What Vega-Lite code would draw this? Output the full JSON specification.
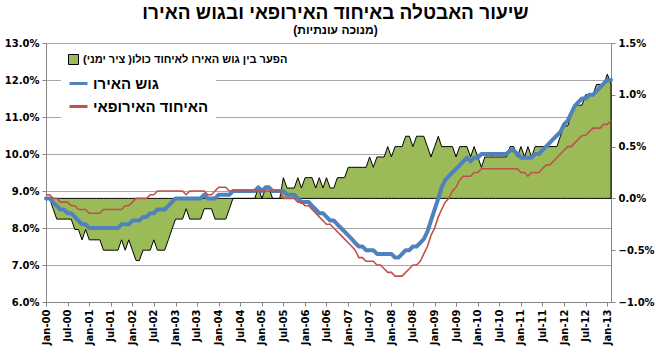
{
"$schema": "https://vega.github.io/schema/vega-lite/v6.json",
"width": 565,
"height": 259,
"background": "white",
"padding": {"left": 4, "right": 4, "top": 4, "bottom": 4},
"config": {"view": {"stroke": null}},
"title": {"text": "שיעור האבטלה באיחוד האירופאי ובגוש האירו", "subtitle": "(מנוכה עונתיות)", "font": "Liberation Sans", "fontSize": 19, "fontWeight": "bold", "color": "black", "subtitleFont": "Liberation Sans", "subtitleFontSize": 12, "subtitleFontWeight": "bold", "subtitleColor": "black", "anchor": "middle", "dx": 7, "offset": 2, "subtitlePadding": 2},
"data": {"values": [
{"date":"2000-01-01","ea":8.8,"eu":8.9,"gap":0},
{"date":"2000-02-01","ea":8.8,"eu":8.9,"gap":0},
{"date":"2000-03-01","ea":8.7,"eu":8.8,"gap":-0.1},
{"date":"2000-04-01","ea":8.6,"eu":8.8,"gap":-0.2},
{"date":"2000-05-01","ea":8.5,"eu":8.7,"gap":-0.2},
{"date":"2000-06-01","ea":8.5,"eu":8.7,"gap":-0.2},
{"date":"2000-07-01","ea":8.4,"eu":8.7,"gap":-0.2},
{"date":"2000-08-01","ea":8.4,"eu":8.6,"gap":-0.2},
{"date":"2000-09-01","ea":8.3,"eu":8.6,"gap":-0.3},
{"date":"2000-10-01","ea":8.2,"eu":8.5,"gap":-0.3},
{"date":"2000-11-01","ea":8.1,"eu":8.5,"gap":-0.4},
{"date":"2000-12-01","ea":8.1,"eu":8.5,"gap":-0.3},
{"date":"2001-01-01","ea":8.0,"eu":8.4,"gap":-0.4},
{"date":"2001-02-01","ea":8.0,"eu":8.4,"gap":-0.4},
{"date":"2001-03-01","ea":8.0,"eu":8.4,"gap":-0.4},
{"date":"2001-04-01","ea":8.0,"eu":8.4,"gap":-0.4},
{"date":"2001-05-01","ea":8.0,"eu":8.5,"gap":-0.5},
{"date":"2001-06-01","ea":8.0,"eu":8.5,"gap":-0.5},
{"date":"2001-07-01","ea":8.0,"eu":8.5,"gap":-0.5},
{"date":"2001-08-01","ea":8.0,"eu":8.5,"gap":-0.5},
{"date":"2001-09-01","ea":8.0,"eu":8.5,"gap":-0.5},
{"date":"2001-10-01","ea":8.1,"eu":8.5,"gap":-0.4},
{"date":"2001-11-01","ea":8.1,"eu":8.6,"gap":-0.5},
{"date":"2001-12-01","ea":8.1,"eu":8.6,"gap":-0.4},
{"date":"2002-01-01","ea":8.2,"eu":8.7,"gap":-0.5},
{"date":"2002-02-01","ea":8.2,"eu":8.8,"gap":-0.6},
{"date":"2002-03-01","ea":8.2,"eu":8.8,"gap":-0.6},
{"date":"2002-04-01","ea":8.3,"eu":8.8,"gap":-0.5},
{"date":"2002-05-01","ea":8.3,"eu":8.8,"gap":-0.5},
{"date":"2002-06-01","ea":8.4,"eu":8.9,"gap":-0.5},
{"date":"2002-07-01","ea":8.4,"eu":8.9,"gap":-0.4},
{"date":"2002-08-01","ea":8.5,"eu":9.0,"gap":-0.5},
{"date":"2002-09-01","ea":8.5,"eu":9.0,"gap":-0.5},
{"date":"2002-10-01","ea":8.5,"eu":9.0,"gap":-0.5},
{"date":"2002-11-01","ea":8.6,"eu":9.0,"gap":-0.4},
{"date":"2002-12-01","ea":8.7,"eu":9.0,"gap":-0.3},
{"date":"2003-01-01","ea":8.8,"eu":9.0,"gap":-0.2},
{"date":"2003-02-01","ea":8.8,"eu":9.0,"gap":-0.2},
{"date":"2003-03-01","ea":8.8,"eu":9.0,"gap":-0.2},
{"date":"2003-04-01","ea":8.8,"eu":8.9,"gap":-0.1},
{"date":"2003-05-01","ea":8.8,"eu":9.0,"gap":-0.2},
{"date":"2003-06-01","ea":8.8,"eu":9.0,"gap":-0.2},
{"date":"2003-07-01","ea":8.8,"eu":9.0,"gap":-0.2},
{"date":"2003-08-01","ea":8.8,"eu":9.0,"gap":-0.2},
{"date":"2003-09-01","ea":8.9,"eu":9.0,"gap":-0.1},
{"date":"2003-10-01","ea":8.8,"eu":8.9,"gap":-0.1},
{"date":"2003-11-01","ea":8.8,"eu":8.9,"gap":-0.1},
{"date":"2003-12-01","ea":8.8,"eu":9.0,"gap":-0.2},
{"date":"2004-01-01","ea":8.9,"eu":9.1,"gap":-0.2},
{"date":"2004-02-01","ea":8.9,"eu":9.1,"gap":-0.2},
{"date":"2004-03-01","ea":8.9,"eu":9.1,"gap":-0.2},
{"date":"2004-04-01","ea":8.9,"eu":9.0,"gap":-0.1},
{"date":"2004-05-01","ea":9.0,"eu":9.0,"gap":0},
{"date":"2004-06-01","ea":9.0,"eu":9.0,"gap":0},
{"date":"2004-07-01","ea":9.0,"eu":9.0,"gap":0},
{"date":"2004-08-01","ea":9.0,"eu":9.0,"gap":0},
{"date":"2004-09-01","ea":9.0,"eu":9.0,"gap":0},
{"date":"2004-10-01","ea":9.0,"eu":9.0,"gap":0},
{"date":"2004-11-01","ea":9.0,"eu":9.0,"gap":0},
{"date":"2004-12-01","ea":9.1,"eu":9.0,"gap":0.1},
{"date":"2005-01-01","ea":9.0,"eu":9.0,"gap":0},
{"date":"2005-02-01","ea":9.1,"eu":9.0,"gap":0.1},
{"date":"2005-03-01","ea":9.1,"eu":9.0,"gap":0.1},
{"date":"2005-04-01","ea":9.0,"eu":9.0,"gap":0},
{"date":"2005-05-01","ea":9.0,"eu":9.0,"gap":0},
{"date":"2005-06-01","ea":9.0,"eu":9.0,"gap":0},
{"date":"2005-07-01","ea":9.0,"eu":8.8,"gap":0.2},
{"date":"2005-08-01","ea":8.9,"eu":8.8,"gap":0.1},
{"date":"2005-09-01","ea":8.9,"eu":8.8,"gap":0.1},
{"date":"2005-10-01","ea":8.9,"eu":8.8,"gap":0.1},
{"date":"2005-11-01","ea":8.8,"eu":8.7,"gap":0.2},
{"date":"2005-12-01","ea":8.7,"eu":8.7,"gap":0.1},
{"date":"2006-01-01","ea":8.7,"eu":8.6,"gap":0.2},
{"date":"2006-02-01","ea":8.7,"eu":8.6,"gap":0.2},
{"date":"2006-03-01","ea":8.6,"eu":8.5,"gap":0.2},
{"date":"2006-04-01","ea":8.5,"eu":8.4,"gap":0.1},
{"date":"2006-05-01","ea":8.4,"eu":8.3,"gap":0.2},
{"date":"2006-06-01","ea":8.4,"eu":8.2,"gap":0.1},
{"date":"2006-07-01","ea":8.3,"eu":8.1,"gap":0.2},
{"date":"2006-08-01","ea":8.2,"eu":8.1,"gap":0.1},
{"date":"2006-09-01","ea":8.2,"eu":8.0,"gap":0.1},
{"date":"2006-10-01","ea":8.1,"eu":7.9,"gap":0.2},
{"date":"2006-11-01","ea":8.0,"eu":7.8,"gap":0.2},
{"date":"2006-12-01","ea":7.9,"eu":7.7,"gap":0.2},
{"date":"2007-01-01","ea":7.8,"eu":7.6,"gap":0.3},
{"date":"2007-02-01","ea":7.7,"eu":7.5,"gap":0.3},
{"date":"2007-03-01","ea":7.6,"eu":7.4,"gap":0.3},
{"date":"2007-04-01","ea":7.5,"eu":7.2,"gap":0.3},
{"date":"2007-05-01","ea":7.5,"eu":7.2,"gap":0.3},
{"date":"2007-06-01","ea":7.4,"eu":7.1,"gap":0.3},
{"date":"2007-07-01","ea":7.4,"eu":7.1,"gap":0.4},
{"date":"2007-08-01","ea":7.4,"eu":7.1,"gap":0.3},
{"date":"2007-09-01","ea":7.3,"eu":7.0,"gap":0.4},
{"date":"2007-10-01","ea":7.3,"eu":7.0,"gap":0.4},
{"date":"2007-11-01","ea":7.3,"eu":6.9,"gap":0.4},
{"date":"2007-12-01","ea":7.3,"eu":6.8,"gap":0.5},
{"date":"2008-01-01","ea":7.3,"eu":6.8,"gap":0.4},
{"date":"2008-02-01","ea":7.2,"eu":6.7,"gap":0.5},
{"date":"2008-03-01","ea":7.2,"eu":6.7,"gap":0.5},
{"date":"2008-04-01","ea":7.3,"eu":6.7,"gap":0.5},
{"date":"2008-05-01","ea":7.4,"eu":6.8,"gap":0.6},
{"date":"2008-06-01","ea":7.4,"eu":6.9,"gap":0.6},
{"date":"2008-07-01","ea":7.5,"eu":7.0,"gap":0.5},
{"date":"2008-08-01","ea":7.5,"eu":7.0,"gap":0.6},
{"date":"2008-09-01","ea":7.6,"eu":7.1,"gap":0.6},
{"date":"2008-10-01","ea":7.7,"eu":7.3,"gap":0.6},
{"date":"2008-11-01","ea":7.9,"eu":7.5,"gap":0.5},
{"date":"2008-12-01","ea":8.2,"eu":7.8,"gap":0.4},
{"date":"2009-01-01","ea":8.5,"eu":8.0,"gap":0.5},
{"date":"2009-02-01","ea":8.8,"eu":8.3,"gap":0.6},
{"date":"2009-03-01","ea":9.1,"eu":8.5,"gap":0.5},
{"date":"2009-04-01","ea":9.3,"eu":8.7,"gap":0.5},
{"date":"2009-05-01","ea":9.4,"eu":8.8,"gap":0.5},
{"date":"2009-06-01","ea":9.5,"eu":9.0,"gap":0.5},
{"date":"2009-07-01","ea":9.6,"eu":9.1,"gap":0.4},
{"date":"2009-08-01","ea":9.7,"eu":9.3,"gap":0.5},
{"date":"2009-09-01","ea":9.8,"eu":9.4,"gap":0.5},
{"date":"2009-10-01","ea":9.9,"eu":9.4,"gap":0.5},
{"date":"2009-11-01","ea":9.8,"eu":9.4,"gap":0.4},
{"date":"2009-12-01","ea":9.9,"eu":9.5,"gap":0.5},
{"date":"2010-01-01","ea":9.9,"eu":9.5,"gap":0.4},
{"date":"2010-02-01","ea":10.0,"eu":9.6,"gap":0.3},
{"date":"2010-03-01","ea":10.0,"eu":9.6,"gap":0.4},
{"date":"2010-04-01","ea":10.0,"eu":9.6,"gap":0.4},
{"date":"2010-05-01","ea":10.0,"eu":9.6,"gap":0.4},
{"date":"2010-06-01","ea":10.0,"eu":9.6,"gap":0.4},
{"date":"2010-07-01","ea":10.0,"eu":9.6,"gap":0.4},
{"date":"2010-08-01","ea":10.0,"eu":9.6,"gap":0.4},
{"date":"2010-09-01","ea":10.0,"eu":9.6,"gap":0.4},
{"date":"2010-10-01","ea":10.1,"eu":9.6,"gap":0.5},
{"date":"2010-11-01","ea":10.1,"eu":9.6,"gap":0.5},
{"date":"2010-12-01","ea":10.0,"eu":9.6,"gap":0.4},
{"date":"2011-01-01","ea":9.9,"eu":9.5,"gap":0.5},
{"date":"2011-02-01","ea":9.9,"eu":9.5,"gap":0.4},
{"date":"2011-03-01","ea":9.9,"eu":9.4,"gap":0.5},
{"date":"2011-04-01","ea":9.9,"eu":9.5,"gap":0.4},
{"date":"2011-05-01","ea":10.0,"eu":9.5,"gap":0.5},
{"date":"2011-06-01","ea":10.0,"eu":9.5,"gap":0.5},
{"date":"2011-07-01","ea":10.1,"eu":9.6,"gap":0.5},
{"date":"2011-08-01","ea":10.2,"eu":9.7,"gap":0.5},
{"date":"2011-09-01","ea":10.3,"eu":9.7,"gap":0.5},
{"date":"2011-10-01","ea":10.4,"eu":9.8,"gap":0.5},
{"date":"2011-11-01","ea":10.5,"eu":9.9,"gap":0.5},
{"date":"2011-12-01","ea":10.6,"eu":10.0,"gap":0.6},
{"date":"2012-01-01","ea":10.8,"eu":10.1,"gap":0.7},
{"date":"2012-02-01","ea":10.9,"eu":10.2,"gap":0.7},
{"date":"2012-03-01","ea":11.1,"eu":10.2,"gap":0.8},
{"date":"2012-04-01","ea":11.3,"eu":10.3,"gap":0.9},
{"date":"2012-05-01","ea":11.4,"eu":10.4,"gap":0.9},
{"date":"2012-06-01","ea":11.5,"eu":10.5,"gap":0.9},
{"date":"2012-07-01","ea":11.5,"eu":10.5,"gap":1.0},
{"date":"2012-08-01","ea":11.6,"eu":10.6,"gap":1.0},
{"date":"2012-09-01","ea":11.6,"eu":10.7,"gap":1.0},
{"date":"2012-10-01","ea":11.7,"eu":10.7,"gap":1.1},
{"date":"2012-11-01","ea":11.8,"eu":10.7,"gap":1.1},
{"date":"2012-12-01","ea":11.9,"eu":10.8,"gap":1.1},
{"date":"2013-01-01","ea":12.0,"eu":10.8,"gap":1.2},
{"date":"2013-02-01","ea":12.0,"eu":10.9,"gap":1.1}
]},
"encoding": {
  "x": {"field": "date", "type": "temporal",
    "scale": {"type": "utc", "domain": [{"year": 2000, "month": 1, "date": 1, "utc": true}, {"year": 2013, "month": 2, "date": 1, "utc": true}]},
    "axis": {"title": null, "format": "%b-%y", "tickCount": {"interval": "month", "step": 6}, "labelAngle": 270, "grid": false, "labelFont": "DejaVu Sans", "labelFontWeight": "bold", "labelFontSize": 10, "labelColor": "black", "domainColor": "#868686", "tickColor": "#868686", "tickSize": 4, "labelPadding": 3, "labelOverlap": false, "labelFlush": false}}
},
"layer": [
  {
    "mark": {"type": "area", "stroke": "black", "strokeWidth": 1, "opacity": 1, "fillOpacity": 1},
    "encoding": {
      "y": {"field": "gap", "type": "quantitative",
        "scale": {"domain": [-1, 1.5], "nice": false},
        "axis": {"orient": "right", "title": null, "values": [-1, -0.5, 0, 0.5, 1, 1.5], "labelExpr": "format(datum.value, '.1f') + '%'", "grid": false, "labelOverlap": false, "labelFont": "DejaVu Sans", "labelFontWeight": "bold", "labelFontSize": 10, "labelColor": "black", "domainColor": "#868686", "tickColor": "#868686", "tickSize": 4, "labelPadding": 3}},
      "fill": {"datum": "gap", "type": "nominal",
        "scale": {"domain": ["gap"], "range": ["#9BBB59"]},
        "legend": {"orient": "none", "legendX": 15, "legendY": 4, "title": null, "fillColor": "white", "padding": 7, "labelLimit": 320, "labelFont": "Liberation Sans", "labelFontWeight": "bold", "labelFontSize": 11, "labelColor": "black", "labelOffset": 4, "symbolType": "square", "symbolSize": 100, "symbolStrokeColor": "black", "symbolStrokeWidth": 1, "symbolOpacity": 1,
          "labelExpr": "'הפער בין גוש האירו לאיחוד כולו( ציר ימני)'"}}
    }
  },
  {
    "layer": [
      {
        "mark": {"type": "line", "strokeWidth": 4, "strokeJoin": "round", "strokeCap": "round"},
        "encoding": {
          "y": {"field": "ea", "type": "quantitative",
            "scale": {"domain": [6, 13], "nice": false},
            "axis": {"orient": "left", "title": null, "values": [6, 7, 8, 9, 10, 11, 12, 13], "tickCount": 8, "labelOverlap": false, "labelExpr": "format(datum.value, '.1f') + '%'", "grid": true, "gridColor": "#A6A6A6", "gridWidth": 1, "labelFont": "DejaVu Sans", "labelFontWeight": "bold", "labelFontSize": 10, "labelColor": "black", "domainColor": "#868686", "tickColor": "#868686", "tickSize": 4, "labelPadding": 3}},
          "stroke": {"datum": "ea", "type": "nominal",
            "scale": {"domain": ["ea", "eu"], "range": ["#4F81BD", "#C0504D"]},
            "legend": {"orient": "none", "legendX": 15, "legendY": 23, "direction": "vertical", "title": null, "fillColor": "white", "padding": 7, "rowPadding": 4, "labelLimit": 320, "labelFont": "Liberation Sans", "labelFontWeight": "bold", "labelFontSize": 15, "labelColor": "black", "labelOffset": 4, "symbolType": "stroke", "symbolSize": 324, "symbolStrokeWidth": 3, "symbolOpacity": 1,
              "labelExpr": "datum.value === 'ea' ? 'גוש האירו\u00a0\u00a0\u00a0\u00a0\u00a0\u00a0\u00a0\u00a0\u00a0\u00a0\u00a0\u00a0\u00a0\u00a0\u00a0\u00a0\u00a0\u00a0\u00a0\u00a0\u00a0\u00a0\u00a0\u00a0\u00a0\u00a0\u00a0\u00a0\u00a0\u00a0\u00a0\u00a0\u00a0\u00a0\u00a0\u00a0\u00a0\u00a0\u00a0\u00a0' : 'האיחוד האירופאי'"}}
        }
      },
      {
        "mark": {"type": "line", "strokeWidth": 1.6},
        "encoding": {
          "y": {"field": "eu", "type": "quantitative",
            "axis": {"orient": "left", "title": null, "values": [6, 7, 8, 9, 10, 11, 12, 13], "tickCount": 8, "labelOverlap": false, "labelExpr": "format(datum.value, '.1f') + '%'", "grid": true, "gridColor": "#A6A6A6", "gridWidth": 1, "labelFont": "DejaVu Sans", "labelFontWeight": "bold", "labelFontSize": 10, "labelColor": "black", "domainColor": "#868686", "tickColor": "#868686", "tickSize": 4, "labelPadding": 3}},
          "stroke": {"datum": "eu", "type": "nominal"}
        }
      }
    ]
  }
],
"resolve": {"scale": {"y": "independent"}}
}
